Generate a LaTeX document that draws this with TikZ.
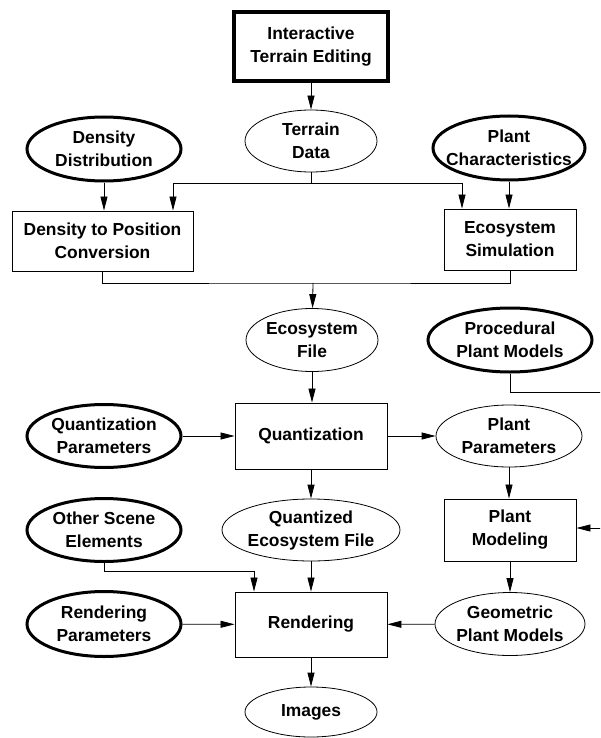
\documentclass[tikz,border=0pt]{standalone}
\usepackage{fontspec}
\setmainfont{Liberation Sans}
\usetikzlibrary{shapes.geometric,arrows.meta}

\begin{document}
\begin{tikzpicture}[x=1pt,y=-1pt,
  font=\fontsize{17.4}{23}\selectfont\bfseries,
  stage/.style={draw,line width=0.9pt,align=center,inner sep=0pt},
  data/.style={draw,ellipse,line width=0.8pt,align=center,inner sep=-40pt},
  input/.style={data,line width=3pt},
  flow/.style={line width=0.8pt,-{Triangle[length=14pt,width=7pt]}}]
  \useasboundingbox (0,0) rectangle (600,738);
  \clip (0,0) rectangle (600,738);

  % Boxes
  \node[stage,line width=4pt,minimum width=154pt,minimum height=69pt] (ite) at (311,46.5) {Interactive\\Terrain Editing};
  \node[stage,minimum width=181pt,minimum height=60pt] (dpc) at (102.5,241) {Density to Position\\Conversion};
  \node[stage,minimum width=132pt,minimum height=61pt] (es)  at (510,239.5) {Ecosystem\\Simulation};
  \node[stage,minimum width=152pt,minimum height=66pt] (q)   at (311,436)   {Quantization};
  \node[stage,minimum width=132pt,minimum height=62pt] (pm)  at (510,530)   {Plant\\Modeling};
  \node[stage,minimum width=152pt,minimum height=65pt] (r)   at (311,624.5) {Rendering};

  % Inputs (thick)
  \node[input,minimum width=154pt,minimum height=64pt] (dd)  at (104,149) {Density\\Distribution};
  \node[input,minimum width=152pt,minimum height=64pt] (pc)  at (509,148) {Plant\\Characteristics};
  \node[input,minimum width=164pt,minimum height=64pt] (ppm) at (510,340) {Procedural\\Plant Models};
  \node[input,minimum width=154pt,minimum height=63pt] (qp)  at (104,436) {Quantization\\Parameters};
  \node[input,minimum width=154pt,minimum height=63pt] (ose) at (104,530) {Other Scene\\Elements};
  \node[input,minimum width=154pt,minimum height=65pt] (rp)  at (104,624) {Rendering\\Parameters};

  % Data
  \node[data,minimum width=132pt,minimum height=62pt] (td)  at (311,141) {Terrain\\Data};
  \node[data,minimum width=132pt,minimum height=63pt] (ef)  at (312,340) {Ecosystem\\File};
  \node[data,minimum width=146pt,minimum height=62pt] (pp)  at (509,436) {Plant\\Parameters};
  \node[data,minimum width=178pt,minimum height=62pt] (qef) at (311,530) {Quantized\\Ecosystem File};
  \node[data,minimum width=150pt,minimum height=63pt] (gpm) at (510,624) {Geometric\\Plant Models};
  \node[data,minimum width=132pt,minimum height=50pt] (img) at (311,712) {Images};

  % Bends
  \coordinate (tdsplit) at (311,183);
  \coordinate (efmerge) at (313,283);
  \coordinate (osebend) at (254,571);

  % Arrows
  \draw[flow] (ite) -- (td);
  \draw[line width=0.8pt] (td) -- (tdsplit);
  \draw[flow] (tdsplit) -| ([xshift=70.5pt]dpc.north);
  \draw[flow] (tdsplit) -| ([xshift=-48pt]es.north);
  \draw[flow] (dd) -- (dd |- dpc.north);
  \draw[flow] (pc) -- (pc |- es.north);
  \draw[line width=0.8pt] (dpc.south) |- (efmerge) -| (es.south);
  \draw[flow] (efmerge) -- (ef);
  \draw[flow] (ef) -- (ef |- q.north);
  \draw[flow] (qp) -- (q);
  \draw[flow] (q) -- (pp);
  \draw[flow] (q) -- (qef);
  \draw[flow] (pp) -- (pp |- pm.north);
  \draw[flow] (ppm.south) |- (640,392) |- ([yshift=2pt]pm.east); % runs off the right edge
  \draw[flow] (pm) -- (gpm);
  \draw[flow] (gpm) -- (r);
  \draw[flow] (ose.south) |- (osebend) -- (osebend |- r.north);
  \draw[flow] (qef) -- (r);
  \draw[flow] (rp) -- (r);
  \draw[flow] (r) -- (img);
\end{tikzpicture}
\end{document}
